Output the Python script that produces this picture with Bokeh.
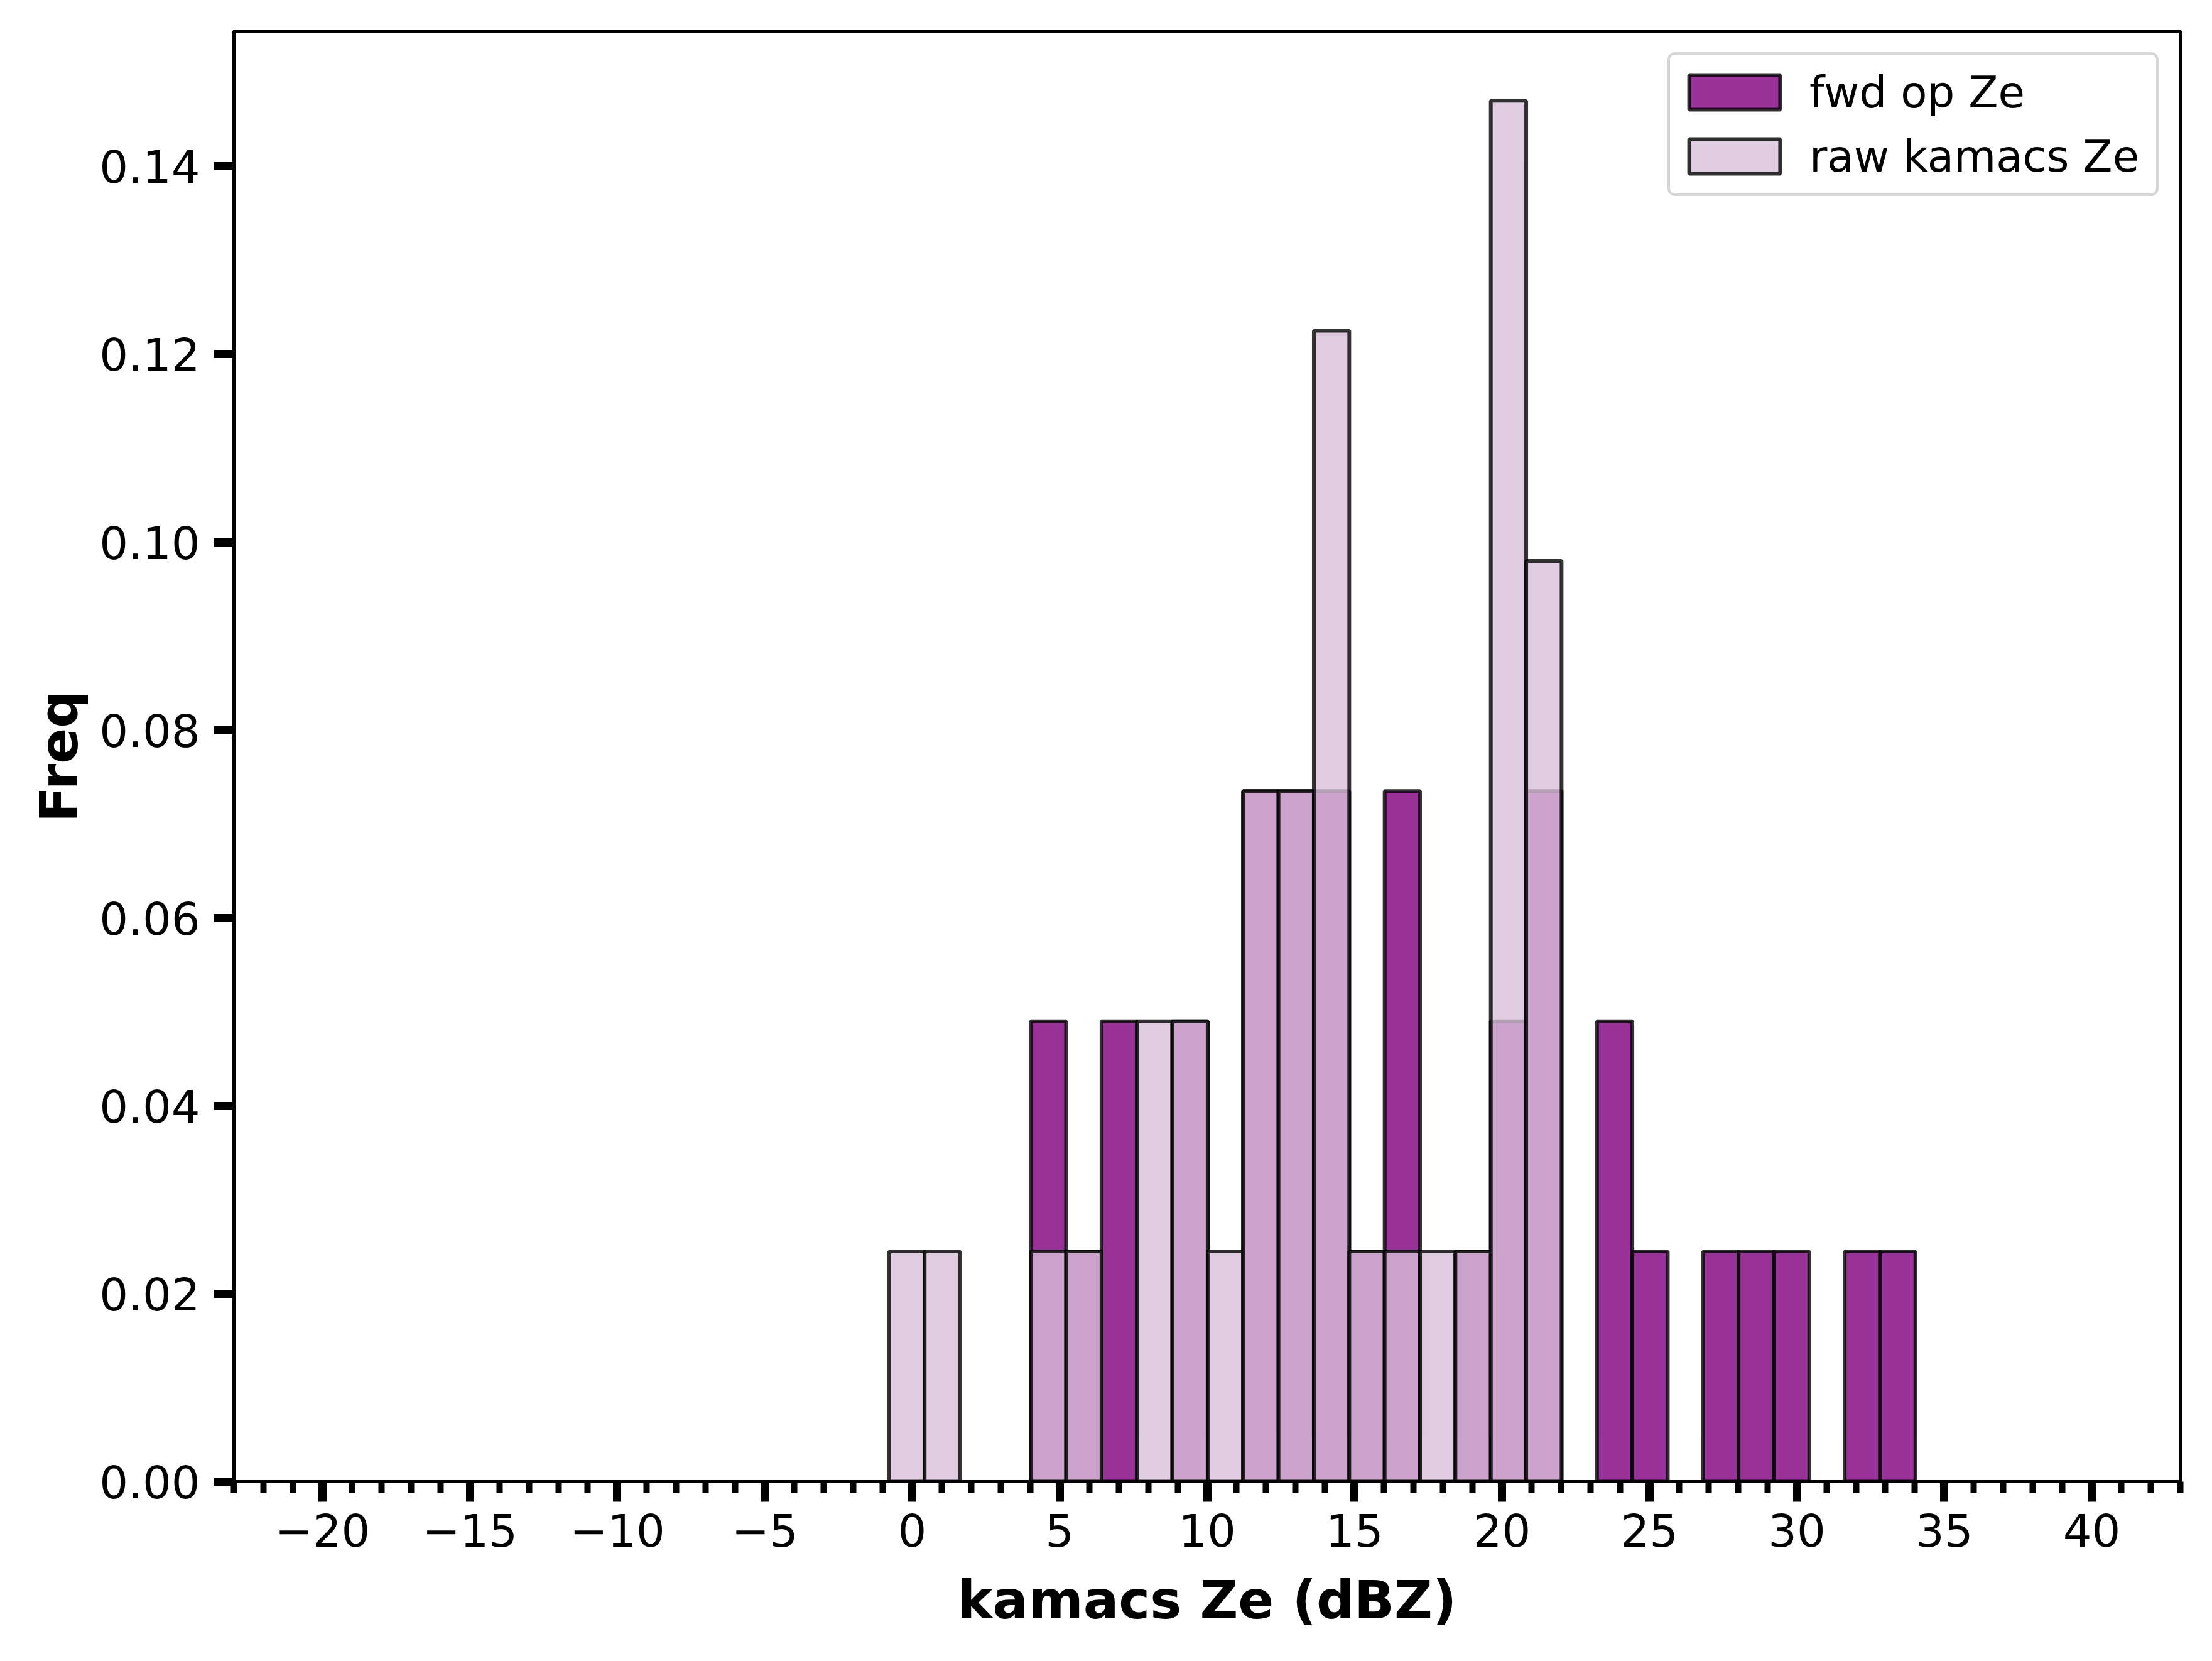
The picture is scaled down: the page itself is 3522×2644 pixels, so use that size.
from bokeh.plotting import figure
from bokeh.models import (FixedTicker, Range1d, Legend, LegendItem,
                          ColumnDataSource)
from bokeh.embed import file_html
from bokeh.resources import INLINE

# ---------------- data ----------------
bin_edges = [-0.78, 0.42, 1.62, 2.82, 4.02, 5.22, 6.42, 7.62, 8.82, 10.02,
             11.22, 12.42, 13.62, 14.82, 16.02, 17.22, 18.42, 19.62, 20.82,
             22.02, 23.22, 24.42, 25.62, 26.82, 28.02, 29.22, 30.42, 31.62,
             32.82, 34.02]

fwd_freq = [0, 0, 0, 0, 0.049, 0.0245, 0.049, 0, 0.049, 0,
            0.0735, 0.0735, 0.0735, 0.0245, 0.0735, 0, 0.0245, 0.049, 0.0735, 0,
            0.049, 0.0245, 0, 0.0245, 0.0245, 0.0245, 0, 0.0245, 0.0245]

raw_freq = [0.0245, 0.0245, 0, 0, 0.0245, 0.0245, 0, 0.049, 0.049, 0.0245,
            0.0735, 0.0735, 0.1225, 0.0245, 0.0245, 0.0245, 0.0245, 0.147, 0.098, 0,
            0, 0, 0, 0, 0, 0, 0, 0, 0]

series_names = ["fwd op Ze", "raw kamacs Ze"]
x_ticks = [-20, -15, -10, -5, 0, 5, 10, 15, 20, 25, 30, 35, 40]
x_tick_labels = ["\u221220", "\u221215", "\u221210", "\u22125", "0", "5", "10",
                 "15", "20", "25", "30", "35", "40"]
x_minor_ticks = list(range(-23, 44))
y_ticks = [0.0, 0.02, 0.04, 0.06, 0.08, 0.10, 0.12, 0.14]
y_tick_labels = ["0.00", "0.02", "0.04", "0.06", "0.08", "0.10", "0.12", "0.14"]
x_label = "kamacs Ze (dBZ)"
y_label = "Freq"

# ---------------- figure ----------------
FONT = "DejaVu Sans"
p = figure(width=3506, height=2628, output_backend="svg", toolbar_location=None,
           x_range=Range1d(-23, 43), y_range=Range1d(0, 0.1544),
           min_border_left=372, min_border_right=35, min_border_top=49,
           min_border_bottom=270)
p.background_fill_color = "white"
p.border_fill_color = "white"
p.grid.visible = False
p.outline_line_color = "black"
p.outline_line_width = 5


def bars(freq):
    left, right, top = [], [], []
    for i, f in enumerate(freq):
        if f > 0:
            left.append(bin_edges[i])
            right.append(bin_edges[i + 1])
            top.append(f)
    return ColumnDataSource(dict(left=left, right=right, top=top,
                                 bottom=[0] * len(top)))


r_fwd = p.quad(left="left", right="right", top="top", bottom="bottom",
               source=bars(fwd_freq), fill_color="purple", fill_alpha=0.8,
               line_color="black", line_alpha=0.8, line_width=6)
r_raw = p.quad(left="left", right="right", top="top", bottom="bottom",
               source=bars(raw_freq), fill_color="thistle", fill_alpha=0.8,
               line_color="black", line_alpha=0.8, line_width=6)

# axes
xa = p.xaxis[0]
xa.ticker = FixedTicker(ticks=x_ticks, minor_ticks=x_minor_ticks)
xa.major_label_overrides = {t: l for t, l in zip(x_ticks, x_tick_labels)}
ya = p.yaxis[0]
ya.ticker = FixedTicker(ticks=y_ticks)
ya.major_label_overrides = {t: l for t, l in zip(y_ticks, y_tick_labels)}

for ax in (xa, ya):
    ax.axis_line_width = 5
    ax.axis_line_color = "black"
    ax.major_tick_line_width = 13
    ax.major_tick_out = 32
    ax.major_tick_in = 0
    ax.minor_tick_line_width = 10
    ax.minor_tick_out = 18
    ax.minor_tick_in = 0
    ax.major_label_text_font = FONT
    ax.major_label_text_font_size = "72px"
    ax.major_label_text_color = "black"
    ax.axis_label_text_font = FONT
    ax.axis_label_text_font_size = "84px"
    ax.axis_label_text_font_style = "bold"
    ax.axis_label_text_color = "black"

ya.minor_tick_line_color = None
xa.major_label_standoff = 18
ya.major_label_standoff = 22
xa.axis_label = x_label
ya.axis_label = y_label
xa.axis_label_standoff = 33
ya.axis_label_standoff = 12

legend = Legend(items=[LegendItem(label=series_names[0], renderers=[r_fwd]),
                       LegendItem(label=series_names[1], renderers=[r_raw])],
                location="top_right")
legend.margin = 34
legend.padding = 12
legend.spacing = 7
legend.glyph_width = 181
legend.glyph_height = 69
legend.label_height = 95
legend.label_width = 540
legend.label_standoff = 29
legend.label_text_font = FONT
legend.label_text_font_size = "69px"
legend.label_text_color = "black"
legend.border_line_color = "#cccccc"
legend.border_line_alpha = 0.8
legend.border_line_width = 4
legend.background_fill_color = "white"
legend.background_fill_alpha = 0.8
if "border_radius" in Legend.properties():
    legend.border_radius = 12
p.add_layout(legend)

open("out.html", "w").write(file_html(p, INLINE))
